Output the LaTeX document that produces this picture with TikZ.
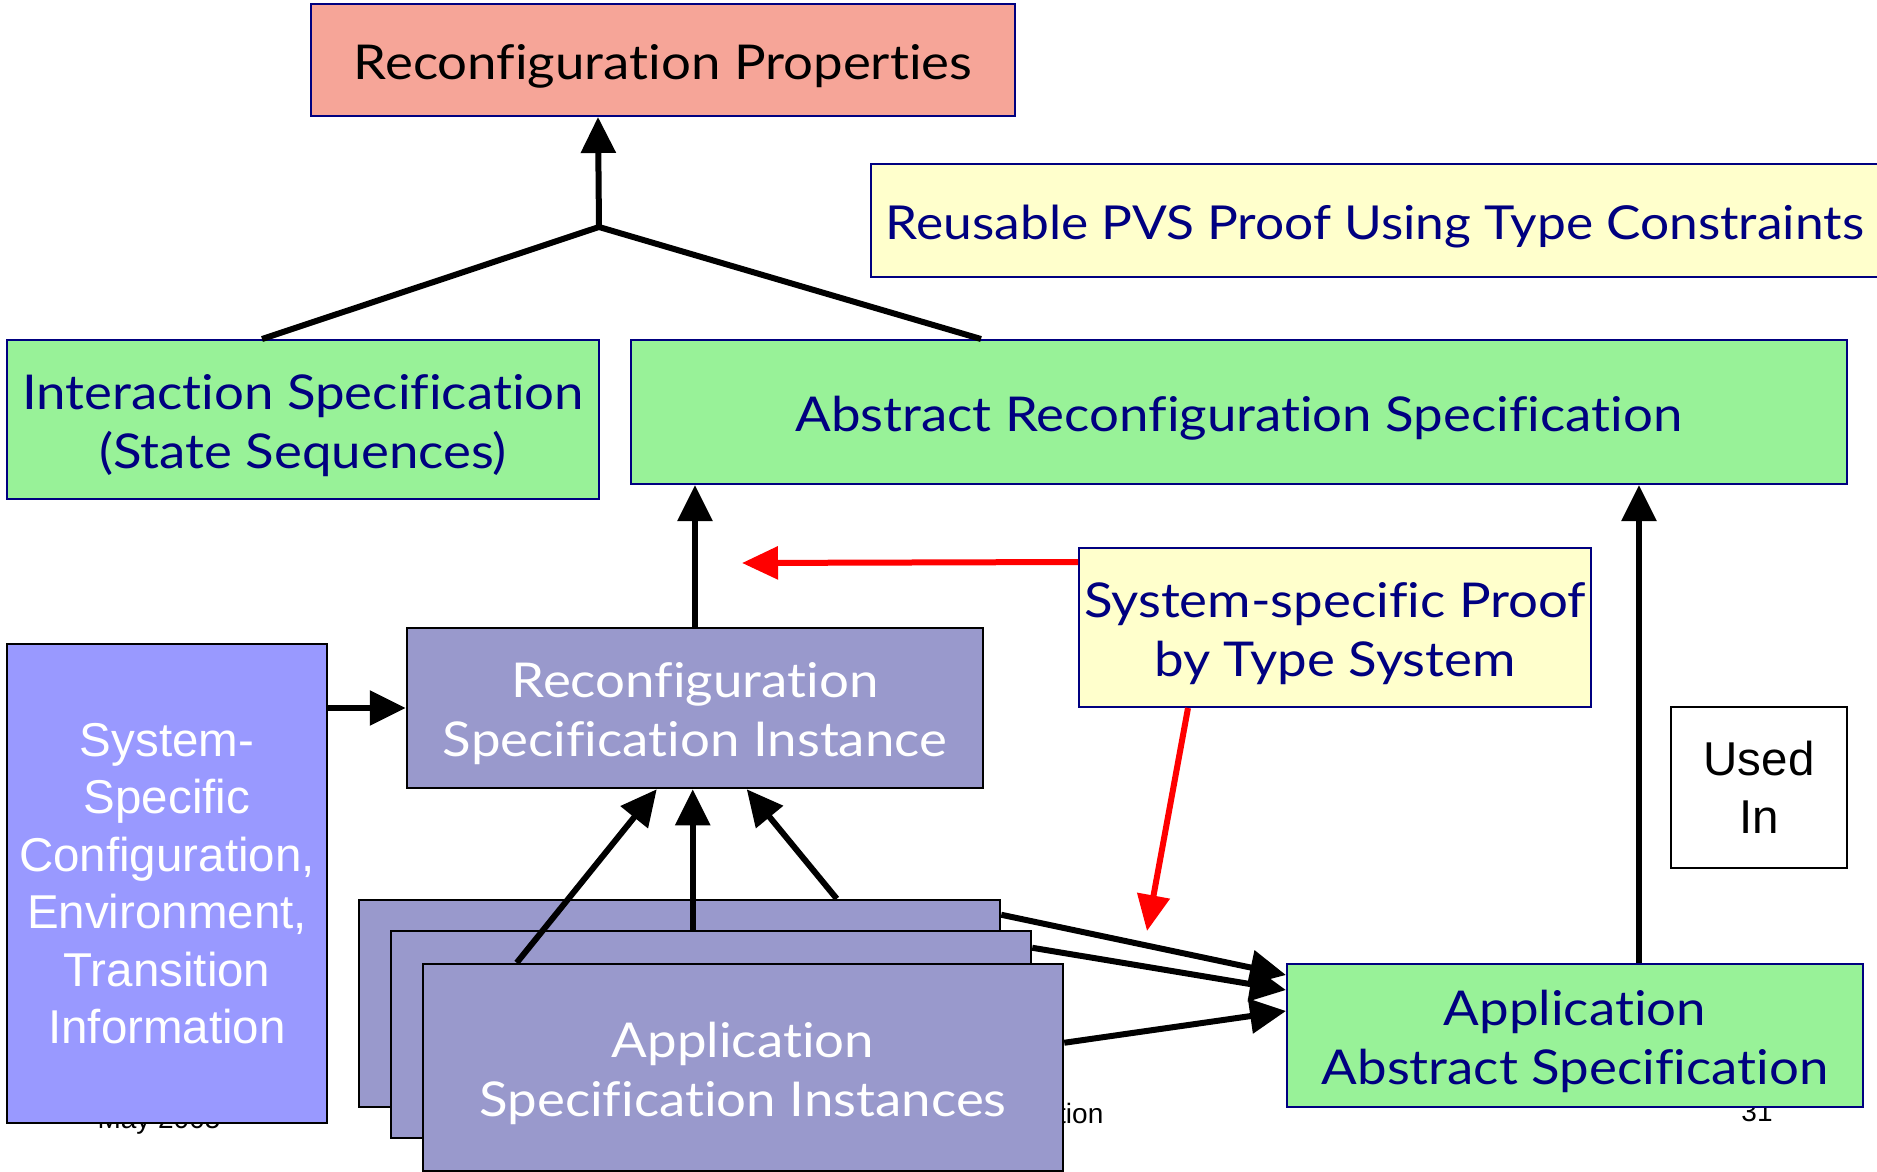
\documentclass[tikz,border=0pt]{standalone}
\usepackage{fontspec}
\setmainfont{Lato}[FakeStretch=1.1, Ligatures=NoCommon]
\newfontfamily\arialf{Liberation Sans}
\usetikzlibrary{arrows.meta}
\definecolor{navy}{HTML}{000080}
\definecolor{pinkc}{HTML}{F6A598}
\definecolor{yellowc}{HTML}{FFFFCC}
\definecolor{greenc}{HTML}{98F298}
\definecolor{purp}{HTML}{9999CC}
\definecolor{lilac}{HTML}{9999FF}
\begin{document}
\begin{tikzpicture}[x=1pt,y=-1pt,
  bx/.style={draw=navy, line width=2pt, inner sep=0pt},
  pbx/.style={draw=black, line width=2.5pt, fill=purp, inner sep=0pt},
  tx/.style={inner sep=0pt, align=center, text=navy, yshift=-6pt, font=\fontsize{48}{59}\selectfont},
  wtx/.style={tx, text=white},
  abx/.style={draw=black, line width=2.5pt, inner sep=0pt, align=center, font=\arialf\fontsize{47.5}{57.5}\selectfont},
  foot/.style={inner sep=0pt, font=\arialf\fontsize{28}{30}\selectfont},
  arr/.style={line width=6pt, -{Triangle[length=36pt,width=34pt]}},
  rarr/.style={draw=red, line width=6pt, -{Triangle[length=36pt,width=32pt]}, red},
  ln/.style={line width=6pt}]
\useasboundingbox (0,0) rectangle (1877,1172);
% footer (partly hidden)
\node[foot, anchor=base] (f1) at (159,1128) {May 2005};
\node[foot, anchor=base west] (f2) at (1058,1123) {tion};
\node[foot, anchor=base] (f3) at (1757,1121) {31};
% boxes
\node[bx, fill=pinkc, minimum width=704, minimum height=112,
  label={[tx, text=black]center:Reconfiguration Properties}] (props) at (663,60) {};
\node[bx, fill=yellowc, minimum width=1014, minimum height=113,
  label={[tx, xshift=-3pt, font=\fontsize{46.8}{59}\selectfont]center:Reusable PVS Proof Using Type Constraints}] (reuse) at (1378,220.5) {};
\node[bx, fill=greenc, minimum width=592, minimum height=159,
  label={[tx]center:Interaction Specification\\(State Sequences)}] (inter) at (303,419.5) {};
\node[bx, fill=greenc, minimum width=1216, minimum height=144,
  label={[tx]center:Abstract Reconfiguration Specification}] (absr) at (1239,412) {};
\node[pbx, minimum width=576, minimum height=160,
  label={[wtx]center:Reconfiguration\\Specification Instance}] (rsi) at (695,708) {};
\node[bx, fill=yellowc, minimum width=512, minimum height=159,
  label={[tx]center:System-specific Proof\\by Type System}] (proof) at (1335,627.5) {};
\node[abx, fill=lilac, text=white, minimum width=320, minimum height=479] (sys) at (167,883.5) {System-\\Specific\\Configuration,\\Environment,\\Transition\\Information};
\node[abx, fill=white, minimum width=176, minimum height=161] (used) at (1759,787.5) {Used\\In};
\node[bx, fill=greenc, minimum width=576, minimum height=143,
  label={[tx]center:Application\\Abstract Specification}] (aas) at (1575,1035.5) {};
\node[pbx, minimum width=641, minimum height=207] (b1) at (679.5,1003.5) {};
\node[pbx, minimum width=640, minimum height=207] (b2) at (711,1034.5) {};
\node[pbx, minimum width=640, minimum height=207,
  label={[wtx]center:Application\\Specification Instances}] (b3) at (743,1067.5) {};
% top tree
\coordinate (J) at (599,227);
\draw[ln] ([xshift=256pt]inter.north west) -- (J);
\draw[ln] ([xshift=351pt]absr.north west) -- (J);
\draw[arr] (J) -- ([xshift=288pt]props.south west);
% instance to abstract
\draw[arr] (rsi.north) -- (rsi.north |- absr.south);
% system-specific to instance
\draw[arr] (sys.east |- rsi.west) -- (rsi.west);
% stacked boxes to instance
\draw[arr] ([xshift=95pt]b3.north west) -- ([xshift=251pt]rsi.south west);
\draw[arr] ([xshift=303pt]b2.north west) -- ([xshift=287pt]rsi.south west);
\draw[arr] ([xshift=479pt]b1.north west) -- ([xshift=341pt]rsi.south west);
% stacked boxes to application abstract
\draw[arr] ([yshift=-16pt]b1.north east) -- ([yshift=-12pt]aas.north west);
\draw[arr] ([yshift=-18pt]b2.north east) -- ([yshift=-27pt]aas.north west);
\draw[arr] ([yshift=-80pt]b3.north east) -- ([yshift=-48pt]aas.north west);
% application abstract up
\draw[arr] ([xshift=353pt]aas.north west) -- ([xshift=1009pt]absr.south west);
% red arrows
\coordinate (r1) at (742,563);
\coordinate (r2) at (1147,931);
\draw[rarr] ([yshift=-15pt]proof.north west) -- (r1);
\draw[rarr] ([xshift=110pt]proof.south west) -- (r2);
\end{tikzpicture}
\end{document}
